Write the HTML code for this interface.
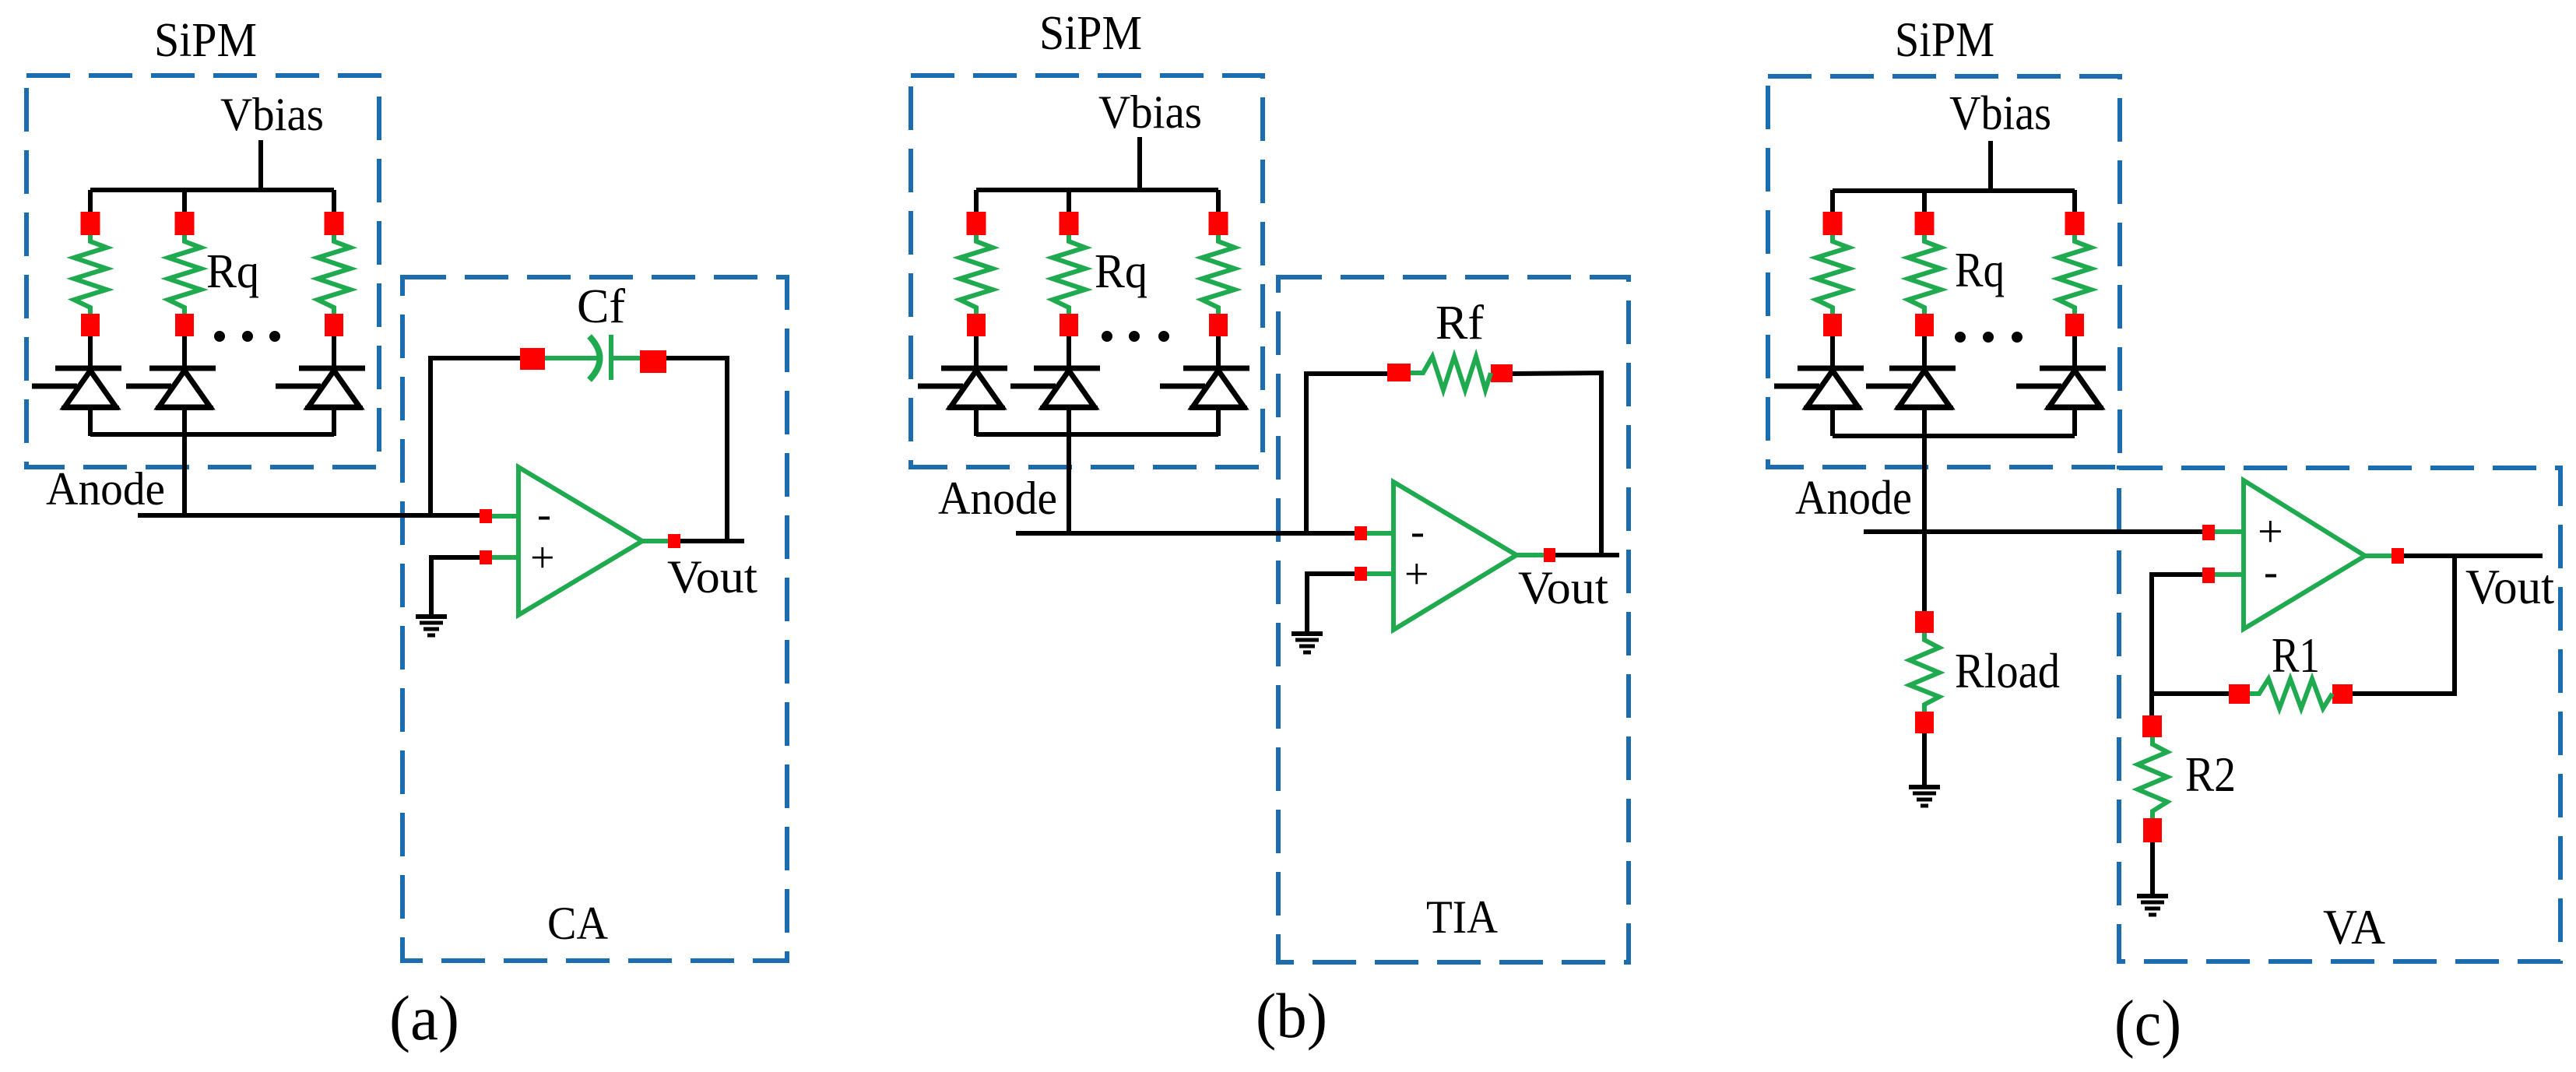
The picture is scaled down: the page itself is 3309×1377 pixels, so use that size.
<!DOCTYPE html>
<html><head><meta charset="utf-8"><style>html,body{margin:0;padding:0;background:#fff}svg{display:block}text{font-family:"Liberation Serif",serif;fill:#000}</style></head>
<body>
<svg width="3309" height="1377" viewBox="0 0 3309 1377" xmlns="http://www.w3.org/2000/svg">
<defs>
<g id="br">
 <line x1="0" y1="244" x2="0" y2="272" stroke="#000" stroke-width="6"/>
 <rect x="-12.5" y="272" width="25" height="30" fill="#f00"/>
 <polyline points="0,302 0,310 21,318 -21,331 21,345 -21,358 21,372 -21,385 0,395 0,403" fill="none" stroke="#1faa50" stroke-width="6"/>
 <rect x="-12" y="403" width="24" height="29" fill="#f00"/>
 <line x1="0" y1="432" x2="0" y2="475" stroke="#000" stroke-width="6"/>
 <line x1="-45" y1="473" x2="40" y2="473" stroke="#000" stroke-width="7"/>
 <polygon points="0,476 -33,523 33,523" fill="#fff" stroke="#000" stroke-width="7"/>
 <line x1="-37" y1="524" x2="37" y2="524" stroke="#000" stroke-width="6"/>
 <line x1="-75" y1="496" x2="-17" y2="496" stroke="#000" stroke-width="7"/>
 <line x1="0" y1="524" x2="0" y2="560" stroke="#000" stroke-width="6"/>
</g>
<g id="gnd">
 <line x1="-20" y1="0" x2="20" y2="0" stroke="#000" stroke-width="6"/>
 <line x1="-15" y1="8" x2="15" y2="8" stroke="#000" stroke-width="5"/>
 <line x1="-10" y1="16" x2="10" y2="16" stroke="#000" stroke-width="5"/>
 <line x1="-5" y1="24" x2="5" y2="24" stroke="#000" stroke-width="5"/>
</g>
</defs>
<g fill="none" stroke="#1b6db0" stroke-width="6" stroke-dasharray="56 24">
 <rect x="34" y="97" width="453" height="503"/>
 <rect x="517" y="356" width="494" height="878"/>
 <rect x="1170" y="97" width="452" height="503"/>
 <rect x="1642" y="356" width="450" height="880"/>
 <rect x="2271" y="98" width="452" height="502"/>
 <rect x="2722" y="601" width="567" height="634"/>
</g>

<!-- Panel a -->
<text x="264" y="72" font-size="62" text-anchor="middle" textLength="132" lengthAdjust="spacingAndGlyphs">SiPM</text>
<text x="283" y="167" font-size="60" textLength="133" lengthAdjust="spacingAndGlyphs">Vbias</text>
<g stroke="#000" stroke-width="6" fill="none">
 <line x1="335" y1="180" x2="335" y2="244"/>
 <line x1="116" y1="244" x2="429" y2="244"/>
 <line x1="116" y1="558" x2="429" y2="558"/>
 <line x1="237" y1="558" x2="237" y2="662"/>
 <line x1="177" y1="662" x2="616" y2="662"/>
 <polyline points="553,662 553,460 668,460"/>
 <polyline points="856,460 934,460 934,695"/>
 <polyline points="616,716 554,716 554,790"/>
 <line x1="874" y1="695" x2="956" y2="695"/>
</g>
<use href="#br" x="116"/><use href="#br" x="237"/><use href="#br" x="429"/>
<text x="265" y="369" font-size="62" textLength="68" lengthAdjust="spacingAndGlyphs">Rq</text>
<circle cx="282" cy="432" r="7"/><circle cx="318" cy="432" r="7"/><circle cx="353" cy="432" r="7"/>
<text x="59" y="648" font-size="60" textLength="153" lengthAdjust="spacingAndGlyphs">Anode</text>
<rect x="668" y="447" width="32" height="28" fill="#f00"/>
<rect x="822" y="450" width="34" height="29" fill="#f00"/>
<g stroke="#1faa50" stroke-width="6" fill="none">
 <line x1="700" y1="460" x2="770" y2="460"/>
 <path d="M757,432 Q784,460 757,488" stroke-width="8"/>
 <line x1="785" y1="430" x2="785" y2="488"/>
 <line x1="785" y1="460" x2="822" y2="460"/>
 <polygon points="666,600 666,790 825,695"/>
 <line x1="632" y1="663" x2="666" y2="663"/>
 <line x1="632" y1="716" x2="666" y2="716"/>
 <line x1="825" y1="695" x2="858" y2="695"/>
</g>
<text x="741" y="414" font-size="62" textLength="62" lengthAdjust="spacingAndGlyphs">Cf</text>
<rect x="616" y="654" width="16" height="18" fill="#f00"/>
<rect x="616" y="707" width="16" height="18" fill="#f00"/>
<rect x="858" y="686" width="16" height="18" fill="#f00"/>
<use href="#gnd" x="554" y="792"/>
<text x="690" y="678" font-size="54">-</text>
<text x="681" y="735" font-size="56">+</text>
<text x="857" y="761" font-size="60" textLength="116" lengthAdjust="spacingAndGlyphs">Vout</text>
<text x="742" y="1206" font-size="60" text-anchor="middle" textLength="78" lengthAdjust="spacingAndGlyphs">CA</text>
<text x="545" y="1335" font-size="82" text-anchor="middle" textLength="90" lengthAdjust="spacingAndGlyphs">(a)</text>

<!-- Panel b -->
<text x="1401" y="63" font-size="62" text-anchor="middle" textLength="132" lengthAdjust="spacingAndGlyphs">SiPM</text>
<text x="1411" y="164" font-size="60" textLength="133" lengthAdjust="spacingAndGlyphs">Vbias</text>
<g stroke="#000" stroke-width="6" fill="none">
 <line x1="1464" y1="176" x2="1464" y2="244"/>
 <line x1="1254" y1="244" x2="1565" y2="244"/>
 <line x1="1254" y1="558" x2="1565" y2="558"/>
 <line x1="1373" y1="558" x2="1373" y2="685"/>
 <line x1="1305" y1="685" x2="1740" y2="685"/>
 <polyline points="1678,685 1678,480 1782,480"/>
 <polyline points="1943,480 2057,479 2057,713"/>
 <polyline points="1740,737 1679,737 1679,812"/>
 <line x1="1997" y1="713" x2="2080" y2="713"/>
</g>
<use href="#br" x="1254"/><use href="#br" x="1373"/><use href="#br" x="1565"/>
<text x="1406" y="369" font-size="62" textLength="68" lengthAdjust="spacingAndGlyphs">Rq</text>
<circle cx="1422" cy="432" r="7"/><circle cx="1457" cy="432" r="7"/><circle cx="1495" cy="432" r="7"/>
<text x="1205" y="660" font-size="60" textLength="153" lengthAdjust="spacingAndGlyphs">Anode</text>
<rect x="1782" y="467" width="30" height="23" fill="#f00"/>
<rect x="1915" y="468" width="28" height="23" fill="#f00"/>
<g stroke="#1faa50" stroke-width="6" fill="none">
 <polyline points="1812,479 1828,479 1840,458 1854,501 1868,458 1882,501 1896,458 1908,501 1915,479"/>
 <polygon points="1790,619 1790,809 1948,713"/>
 <line x1="1756" y1="685" x2="1790" y2="685"/>
 <line x1="1756" y1="737" x2="1790" y2="737"/>
 <line x1="1948" y1="713" x2="1983" y2="713"/>
</g>
<text x="1844" y="435" font-size="62" textLength="62" lengthAdjust="spacingAndGlyphs">Rf</text>
<rect x="1740" y="676" width="16" height="18" fill="#f00"/>
<rect x="1740" y="728" width="16" height="18" fill="#f00"/>
<rect x="1983" y="704" width="15" height="18" fill="#f00"/>
<use href="#gnd" x="1679" y="814"/>
<text x="1812" y="700" font-size="54">-</text>
<text x="1804" y="756" font-size="56">+</text>
<text x="1950" y="775" font-size="60" textLength="116" lengthAdjust="spacingAndGlyphs">Vout</text>
<text x="1878" y="1198" font-size="60" text-anchor="middle" textLength="92" lengthAdjust="spacingAndGlyphs">TIA</text>
<text x="1659" y="1332" font-size="82" text-anchor="middle" textLength="92" lengthAdjust="spacingAndGlyphs">(b)</text>

<!-- Panel c -->
<text x="2498" y="72" font-size="64" text-anchor="middle" textLength="128" lengthAdjust="spacingAndGlyphs">SiPM</text>
<text x="2504" y="166" font-size="62" textLength="131" lengthAdjust="spacingAndGlyphs">Vbias</text>
<g stroke="#000" stroke-width="6" fill="none">
 <line x1="2557" y1="181" x2="2557" y2="245"/>
 <line x1="2354" y1="245" x2="2665" y2="245"/>
 <line x1="2354" y1="560" x2="2665" y2="560"/>
 <line x1="2472" y1="558" x2="2472" y2="785"/>
 <line x1="2472" y1="942" x2="2472" y2="1009"/>
 <line x1="2394" y1="683" x2="2829" y2="683"/>
 <polyline points="2829,738 2764,738 2764,919"/>
 <line x1="2764" y1="891" x2="2863" y2="891"/>
 <polyline points="3022,891 3153,891 3153,714"/>
 <line x1="2765" y1="1082" x2="2765" y2="1149"/>
 <line x1="3088" y1="714" x2="3266" y2="714"/>
</g>
<use href="#br" x="2354"/><use href="#br" x="2472"/><use href="#br" x="2665"/>
<text x="2511" y="368" font-size="64" textLength="64" lengthAdjust="spacingAndGlyphs">Rq</text>
<circle cx="2518" cy="433" r="7"/><circle cx="2554" cy="433" r="7"/><circle cx="2591" cy="433" r="7"/>
<text x="2306" y="660" font-size="62" textLength="150" lengthAdjust="spacingAndGlyphs">Anode</text>
<rect x="2460" y="785" width="24" height="28" fill="#f00"/>
<rect x="2460" y="914" width="24" height="28" fill="#f00"/>
<rect x="2752" y="919" width="25" height="28" fill="#f00"/>
<rect x="2753" y="1051" width="24" height="31" fill="#f00"/>
<rect x="2863" y="879" width="27" height="25" fill="#f00"/>
<rect x="2996" y="879" width="26" height="25" fill="#f00"/>
<g stroke="#1faa50" stroke-width="6" fill="none">
 <polyline points="2472,813 2472,822 2491,832 2453,848 2491,864 2453,880 2491,895 2472,905 2472,914"/>
 <polyline points="2765,947 2765,956 2784,966 2746,982 2784,998 2746,1014 2784,1030 2765,1042 2765,1051"/>
 <polyline points="2890,891 2902,891 2914,872 2928,910 2942,872 2956,910 2970,872 2984,910 2996,891"/>
 <polygon points="2882,617 2882,808 3038,714"/>
 <line x1="2845" y1="683" x2="2882" y2="683"/>
 <line x1="2845" y1="738" x2="2882" y2="738"/>
 <line x1="3038" y1="714" x2="3072" y2="714"/>
</g>
<rect x="2829" y="674" width="16" height="20" fill="#f00"/>
<rect x="2829" y="729" width="16" height="20" fill="#f00"/>
<rect x="3072" y="704" width="16" height="20" fill="#f00"/>
<use href="#gnd" x="2472" y="1011"/>
<use href="#gnd" x="2765" y="1151"/>
<text x="2511" y="883" font-size="64" textLength="135" lengthAdjust="spacingAndGlyphs">Rload</text>
<text x="2918" y="863" font-size="64" textLength="62" lengthAdjust="spacingAndGlyphs">R1</text>
<text x="2807" y="1016" font-size="64" textLength="65" lengthAdjust="spacingAndGlyphs">R2</text>
<text x="2900" y="702" font-size="58">+</text>
<text x="2908" y="752" font-size="54">-</text>
<text x="3167" y="775" font-size="64" textLength="114" lengthAdjust="spacingAndGlyphs">Vout</text>
<text x="3024" y="1212" font-size="64" text-anchor="middle" textLength="80" lengthAdjust="spacingAndGlyphs">VA</text>
<text x="2759" y="1342" font-size="84" text-anchor="middle" textLength="86" lengthAdjust="spacingAndGlyphs">(c)</text>
</svg>
</body></html>
